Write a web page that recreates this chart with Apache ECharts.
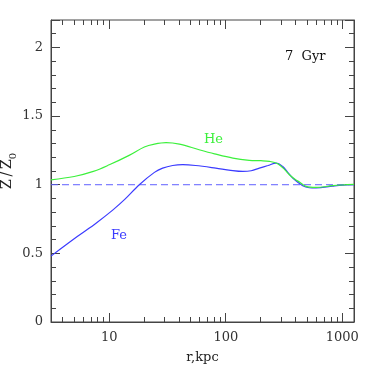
<!DOCTYPE html>
<html>
<head>
<meta charset="utf-8">
<script src="https://cdn.jsdelivr.net/npm/echarts@6/dist/echarts.min.js"></script>
<style>
html,body{margin:0;padding:0;background:#fff;}
#chart{width:374px;height:374px;}
</style>
</head>
<body>
<div id="chart"></div>
<script>
// r (kpc) and Z/Z0 values
const heR = [3.162, 5, 7.3, 10, 14.8, 20, 24.4, 30.7, 40, 59, 80, 115, 159, 200, 237, 279, 320, 351, 400, 428, 488, 595, 826, 1000, 1259];
const heZ = [1.036, 1.06, 1.097, 1.145, 1.214, 1.275, 1.296, 1.307, 1.296, 1.255, 1.225, 1.194, 1.178, 1.175, 1.17, 1.153, 1.11, 1.073, 1.035, 1.02, 0.988, 0.98, 0.993, 0.998, 1.002];

const feR = [3.162, 5.35, 7.7, 10.7, 13.5, 18.1, 24.4, 28.7, 35, 42.7, 55, 82, 110, 140, 165, 194, 230, 270, 308, 340, 375, 457, 520, 595, 826, 1000, 1259];
const feZ = [0.48, 0.624, 0.72, 0.815, 0.891, 1.0, 1.09, 1.121, 1.14, 1.146, 1.14, 1.121, 1.105, 1.097, 1.102, 1.121, 1.14, 1.158, 1.133, 1.09, 1.049, 0.993, 0.978, 0.976, 0.99, 0.997, 1.0];

const refR = [3.162, 1259];
const refZ = [1, 1];

const xMajorTicks = [10, 100, 1000];
const xMinorTicks = [4, 5, 6, 7, 8, 9, 20, 30, 40, 50, 60, 70, 80, 90, 200, 300, 400, 500, 600, 700, 800, 900];
const xMin = Math.pow(10, 0.5), xMax = Math.pow(10, 3.1);
const yMin = 0, yMax = 2.2;

const FONT = 'DejaVu Serif';
const AX = '#444';
const GREEN = '#3cf03c';
const BLUE = '#3b3bff';

const zip = (a, b) => a.map((v, i) => [v, b[i]]);
const tickData = xMajorTicks.map(v => [v, 1]).concat(xMinorTicks.map(v => [v, 0]));

const chart = echarts.init(document.getElementById('chart'), null, {renderer: 'canvas'});
chart.setOption({
  animation: false,
  backgroundColor: '#fff',
  grid: {left: 51, right: 20, top: 20, bottom: 52, show: true, borderColor: AX, borderWidth: 1},
  xAxis: [{
    type: 'log', logBase: 10, min: xMin, max: xMax,
    name: 'r,kpc', nameLocation: 'middle', nameGap: 29,
    nameTextStyle: {fontFamily: FONT, fontSize: 13, color: '#222'},
    axisLine: {lineStyle: {color: AX}},
    axisTick: {show: false}, splitLine: {show: false}, minorTick: {show: false},
    axisLabel: {
      fontFamily: FONT, fontSize: 13, color: '#333', margin: 9,
      formatter: v => {
        const l = Math.log10(v);
        return Math.abs(l - Math.round(l)) < 1e-6 ? String(Math.round(v)) : '';
      }
    }
  }],
  yAxis: [{
    type: 'value', min: yMin, max: yMax, interval: 0.5,
    axisLine: {show: true, lineStyle: {color: AX}},
    axisTick: {show: true, inside: true, length: 9, lineStyle: {color: AX}},
    minorTick: {show: true, splitNumber: 5, length: 5, lineStyle: {color: AX}},
    splitLine: {show: false},
    axisLabel: {
      fontFamily: FONT, fontSize: 13, color: '#333', margin: 8,
      formatter: v => (Math.abs(v * 2 - Math.round(v * 2)) < 1e-6 ? String(v) : '')
    }
  }, {
    type: 'value', min: yMin, max: yMax, interval: 0.5, position: 'right',
    axisLine: {show: true, lineStyle: {color: AX}},
    axisTick: {show: true, inside: true, length: 9, lineStyle: {color: AX}},
    minorTick: {show: true, splitNumber: 5, length: 5, lineStyle: {color: AX}},
    splitLine: {show: false}, axisLabel: {show: false}
  }],
  series: [{
    type: 'line', data: zip(refR, refZ), showSymbol: false, silent: true,
    lineStyle: {color: '#5f5fff', width: 1, type: [7, 4]}
  }, {
    type: 'line', data: zip(feR, feZ), showSymbol: false, smooth: 0.35, silent: true,
    lineStyle: {color: BLUE, width: 1.2}
  }, {
    type: 'line', data: zip(heR, heZ), showSymbol: false, smooth: 0.35, silent: true,
    lineStyle: {color: GREEN, width: 1.2}
  }, {
    type: 'custom', data: tickData, silent: true, clip: false,
    renderItem: (params, api) => {
      const v = api.value(0);
      const len = api.value(1) ? 9 : 5;
      const pb = api.coord([v, yMin]);
      const pt = api.coord([v, yMax]);
      const x = Math.round(pb[0] - 0.5) + 0.5;
      return {type: 'group', children: [
        {type: 'line', shape: {x1: x, y1: pb[1], x2: x, y2: pb[1] - len}, style: {stroke: AX, lineWidth: 1}},
        {type: 'line', shape: {x1: x, y1: pt[1], x2: x, y2: pt[1] + len}, style: {stroke: AX, lineWidth: 1}}
      ]};
    }
  }],
  graphic: [
    {type: 'text', left: 285, top: 50, style: {text: '7  Gyr', font: '13px "DejaVu Serif"', fill: '#111'}},
    {type: 'text', left: 204, top: 133, style: {text: 'He', font: '13px "DejaVu Serif"', fill: GREEN}},
    {type: 'text', left: 111, top: 229, style: {text: 'Fe', font: '13px "DejaVu Serif"', fill: BLUE}},
    {type: 'text', x: 9, y: 171, rotation: Math.PI / 2,
      style: {
        text: '{a|Z\u2009/\u2009Z}{b|0}', align: 'center', verticalAlign: 'middle',
        rich: {
          a: {fontFamily: FONT, fontSize: 14, fill: '#222', padding: [0, 0, 4, 0], verticalAlign: 'bottom'},
          b: {fontFamily: FONT, fontSize: 10, fill: '#222', verticalAlign: 'bottom'}
        }
      }
    }
  ]
});
</script>
</body>
</html>
